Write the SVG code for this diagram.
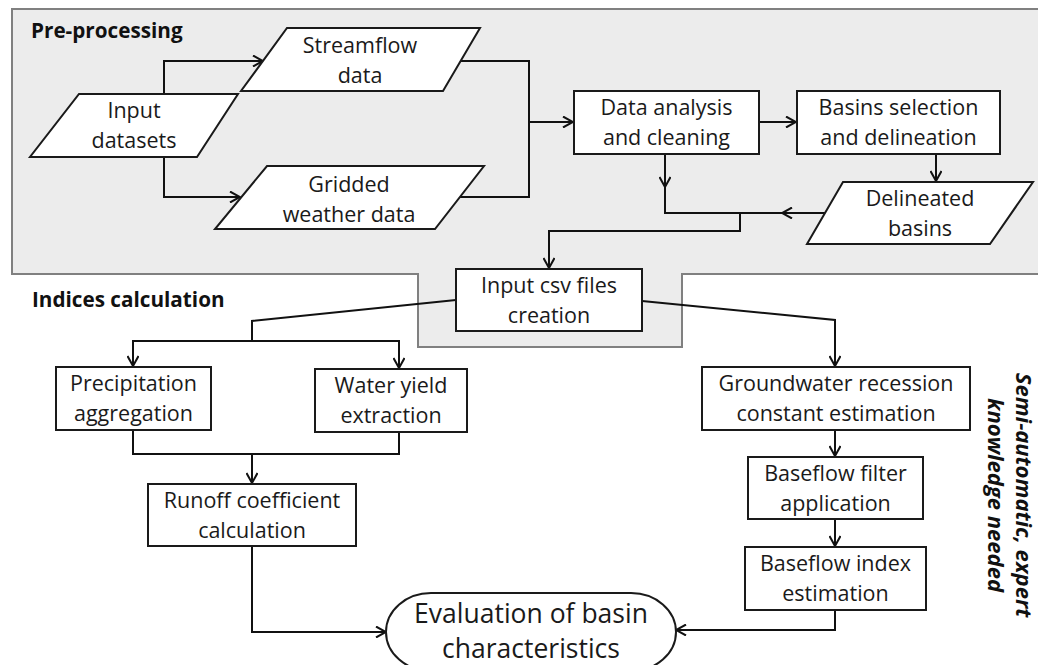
<svg xmlns="http://www.w3.org/2000/svg" width="1038" height="665" viewBox="0 0 1038 665">
<style>
.box{fill:#fff;stroke:#1a1a1a;stroke-width:2}
.t{font-family:"Open Sans","Noto Sans",sans-serif;font-size:21.5px;fill:#1a1a1a;text-anchor:middle}
.title{font-family:"Open Sans","Noto Sans",sans-serif;font-size:20.7px;font-weight:bold;fill:#111}
.c{fill:none;stroke:#111;stroke-width:2}
.ca{fill:none;stroke:#111;stroke-width:2;marker-end:url(#ah)}
</style>
<defs>
<marker id="ah" viewBox="0 0 12 12" refX="11" refY="6" markerWidth="12" markerHeight="12" markerUnits="userSpaceOnUse" orient="auto">
<path d="M1,0.5 L11,6 L1,11.5" fill="none" stroke="#111" stroke-width="2"/>
</marker>
</defs>
<rect width="1038" height="665" fill="#fff"/>
<path d="M12,9 H1040 V274 H682 V347 H418 V274 H12 Z" fill="#ececec" stroke="#808080" stroke-width="2"/>
<text class="title" x="31" y="38">Pre-processing</text>
<text class="title" x="32" y="307">Indices calculation</text>

<g id="connectors">
<path class="ca" d="M164,94 V61 H263"/>
<path class="ca" d="M164,157 V197 H240"/>
<path class="c" d="M455,61 H529 V197 H460"/>
<path class="ca" d="M529,122 H573"/>
<path class="ca" d="M759,122 H796"/>
<path class="ca" d="M936,154 V181"/>
<path class="ca" d="M665,154 V187"/>
<path class="c" d="M665,186 V213 H783"/>
<path class="ca" d="M825,213 H782"/>
<path class="ca" d="M740,213 V231 H549 V268"/>
<path class="c" d="M456,300 L252,321 V341"/>
<path class="ca" d="M252,341 H133 V366"/>
<path class="ca" d="M252,341 H399 V368"/>
<path class="c" d="M133,430 V454 H399 V432"/>
<path class="ca" d="M252,454 V483"/>
<path class="ca" d="M252,546 V632 H386"/>
<path class="ca" d="M642,301 L835,320 V366"/>
<path class="ca" d="M835,430 V456"/>
<path class="ca" d="M835,519 V546"/>
<path class="ca" d="M835,610 V630 H676"/>
</g>

<g id="input-datasets">
<polygon class="box" points="79,94 238,94 197,157 30,157"/>
<text class="t" x="134" y="118">Input</text>
<text class="t" x="134" y="148">datasets</text>
</g>
<g id="streamflow">
<polygon class="box" points="287,28 480,28 443,91 241,91"/>
<text class="t" x="360" y="53">Streamflow</text>
<text class="t" x="360" y="83">data</text>
</g>
<g id="gridded">
<polygon class="box" points="267,166 484,166 435,229 215,229"/>
<text class="t" x="349" y="192">Gridded</text>
<text class="t" x="349" y="222">weather data</text>
</g>
<g id="data-analysis">
<rect class="box" x="574" y="91" width="185" height="63"/>
<text class="t" x="666.5" y="115">Data analysis</text>
<text class="t" x="666.5" y="145">and cleaning</text>
</g>
<g id="basins-selection">
<rect class="box" x="797" y="91" width="203" height="63"/>
<text class="t" x="898.5" y="115">Basins selection</text>
<text class="t" x="898.5" y="145">and delineation</text>
</g>
<g id="delineated">
<polygon class="box" points="843,182 1033,182 990,244 807,244"/>
<text class="t" x="920" y="206">Delineated</text>
<text class="t" x="920" y="236">basins</text>
</g>
<g id="input-csv">
<rect class="box" x="456" y="269" width="186" height="62"/>
<text class="t" x="549" y="293">Input csv files</text>
<text class="t" x="549" y="323">creation</text>
</g>
<g id="precipitation">
<rect class="box" x="56" y="367" width="155" height="63"/>
<text class="t" x="133.5" y="391">Precipitation</text>
<text class="t" x="133.5" y="421">aggregation</text>
</g>
<g id="water-yield">
<rect class="box" x="315" y="369" width="152" height="63"/>
<text class="t" x="391" y="393">Water yield</text>
<text class="t" x="391" y="423">extraction</text>
</g>
<g id="runoff">
<rect class="box" x="148" y="484" width="208" height="62"/>
<text class="t" x="252" y="508">Runoff coefficient</text>
<text class="t" x="252" y="538">calculation</text>
</g>
<g id="groundwater">
<rect class="box" x="702" y="367" width="268" height="63"/>
<text class="t" x="836" y="391">Groundwater recession</text>
<text class="t" x="836" y="421">constant estimation</text>
</g>
<g id="baseflow-filter">
<rect class="box" x="748" y="457" width="175" height="62"/>
<text class="t" x="835.5" y="481">Baseflow filter</text>
<text class="t" x="835.5" y="511">application</text>
</g>
<g id="baseflow-index">
<rect class="box" x="745" y="547" width="181" height="63"/>
<text class="t" x="835.5" y="571">Baseflow index</text>
<text class="t" x="835.5" y="601">estimation</text>
</g>
<g id="evaluation">
<rect class="box" x="386" y="593" width="290" height="78" rx="45" ry="39"/>
<text class="t" x="531" y="623" style="font-size:26.5px">Evaluation of basin</text>
<text class="t" x="531" y="658" style="font-size:26.5px">characteristics</text>
</g>
<g id="note">
<text transform="translate(1016,495) rotate(90)" style="font-family:'Open Sans','Noto Sans',sans-serif;font-size:22px;font-weight:bold;font-style:italic;fill:#111;text-anchor:middle"><tspan x="0" y="0">Semi-automatic, expert</tspan><tspan x="0" dy="28.5">knowledge needed</tspan></text>
</g>
</svg>
